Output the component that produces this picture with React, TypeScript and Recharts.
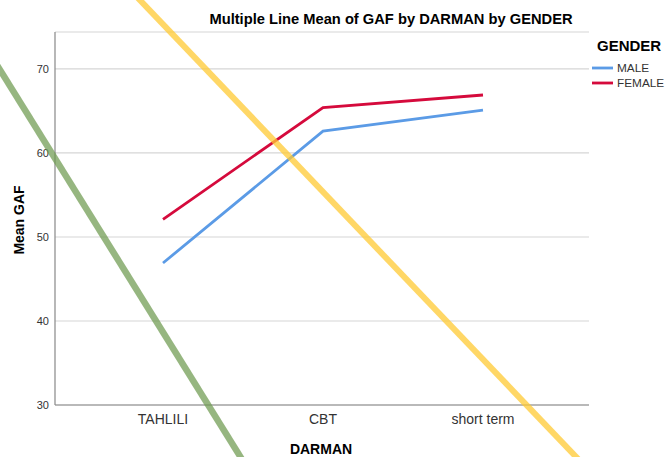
import React from 'react';
import { LineChart, Line, XAxis, YAxis, CartesianGrid } from 'recharts';

const categories = ['TAHLILI', 'CBT', 'short term'];
const maleMeans = [46.9, 62.6, 65.1];
const femaleMeans = [52.1, 65.4, 66.9];
const yTicks = [30, 40, 50, 60, 70];
const seriesNames = ['MALE', 'FEMALE'];
const seriesColors = ['#5B9BE6', '#D50A3C'];

const data = categories.map((c, i) => ({ darman: c, MALE: maleMeans[i], FEMALE: femaleMeans[i] }));

const FONT = '"Liberation Sans", Arial, sans-serif';

export default function App() {
  return (
    <div style={{ position: 'absolute', left: 0, top: 0, width: 665, height: 457, background: '#fff', fontFamily: FONT }}>
      <LineChart width={665} height={457} data={data} margin={{ top: 32, right: 76, bottom: 0, left: 0 }}>
        <CartesianGrid vertical={false} stroke="#d6d6d6" strokeWidth={1.2} />
        <XAxis
          dataKey="darman"
          height={52}
          padding={{ left: 108, right: 106 }}
          axisLine={{ stroke: '#888', strokeWidth: 1.2 }}
          tickLine={false}
          tickSize={6}
          tickMargin={3}
          tick={{ fill: '#333', fontSize: 14, fontFamily: FONT }}
        />
        <YAxis
          width={55}
          domain={[30, 74.4]}
          ticks={yTicks}
          allowDataOverflow
          axisLine={{ stroke: '#888', strokeWidth: 1.2 }}
          tickLine={false}
          tickSize={0}
          tickMargin={6}
          tick={{ fill: '#333', fontSize: 11, fontFamily: FONT }}
        />
        {seriesNames.map((name, i) => (
          <Line
            key={name}
            dataKey={name}
            name={name}
            stroke={seriesColors[i]}
            strokeWidth={2.8}
            dot={false}
            activeDot={false}
            isAnimationActive={false}
          />
        ))}
      </LineChart>
      <svg width={665} height={457} style={{ position: 'absolute', left: 0, top: 0, pointerEvents: 'none' }}>
        <text x={391} y={24} textAnchor="middle" fontSize={14.7} fontWeight="bold" fill="#000" fontFamily={FONT}>
          Multiple Line Mean of GAF by DARMAN by GENDER
        </text>
        <text
          x={0}
          y={0}
          transform="translate(24,220) rotate(-90)"
          textAnchor="middle"
          fontSize={14}
          fontWeight="bold"
          fill="#000"
          fontFamily={FONT}
        >
          Mean GAF
        </text>
        <text x={321} y={454} textAnchor="middle" fontSize={14} fontWeight="bold" fill="#000" fontFamily={FONT}>
          DARMAN
        </text>
        <text x={597} y={51} fontSize={15} fontWeight="bold" fill="#000" fontFamily={FONT}>
          GENDER
        </text>
        {seriesNames.map((name, i) => (
          <g key={name}>
            <line x1={592} x2={613} y1={68 + i * 15} y2={68 + i * 15} stroke={seriesColors[i]} strokeWidth={2.8} />
            <text x={617} y={72 + i * 15} fontSize={11.8} fill="#333" fontFamily={FONT}>
              {name}
            </text>
          </g>
        ))}
        <line x1={136} y1={-4} x2={580} y2={461} stroke="#FFC933" strokeOpacity={0.75} strokeWidth={6} />
        <line x1={-3} y1={65} x2={243} y2={461} stroke="#6E9A4F" strokeOpacity={0.72} strokeWidth={6.5} />
      </svg>
    </div>
  );
}
